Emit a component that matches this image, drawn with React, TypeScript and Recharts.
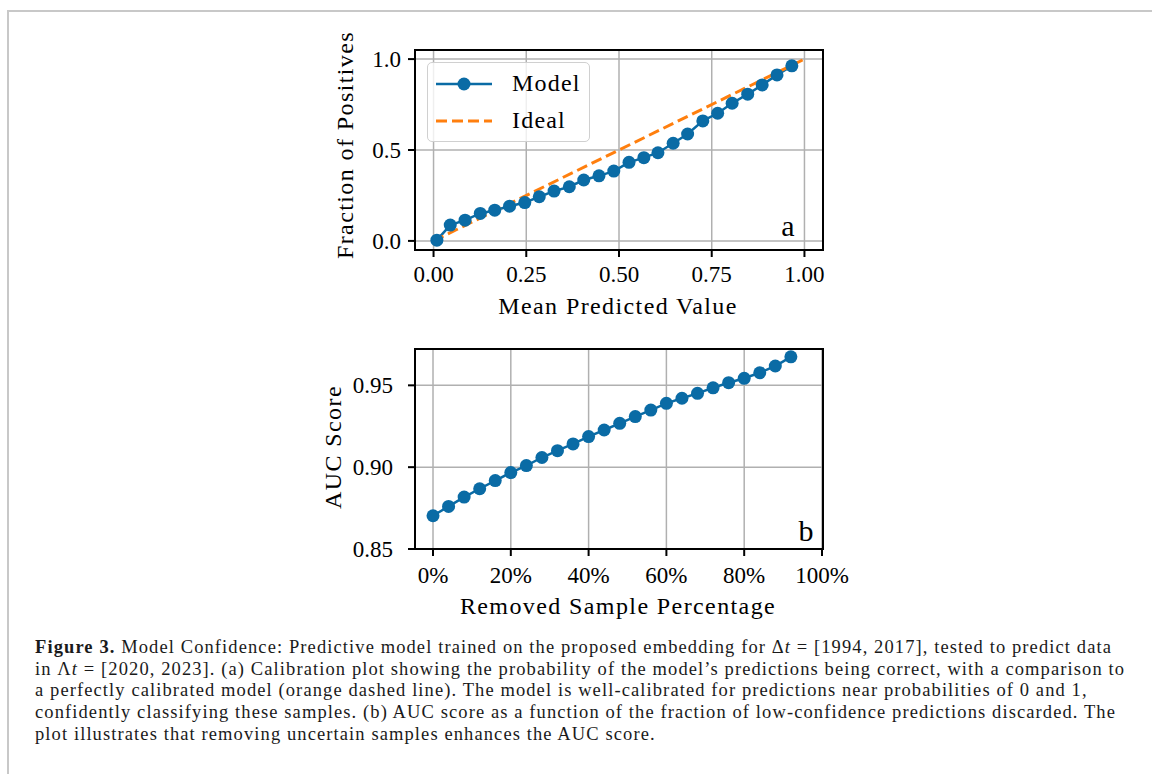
import React from "react";
import {
  ComposedChart,
  Line,
  XAxis,
  YAxis,
  CartesianGrid,
  ReferenceArea,
  Legend,
} from "recharts";

// (a) calibration curve
const meanPredicted = [
  0.009, 0.045, 0.085, 0.126, 0.165, 0.205, 0.246, 0.285, 0.325, 0.366, 0.405, 0.446, 0.486,
  0.527, 0.567, 0.605, 0.646, 0.685, 0.726, 0.766, 0.805, 0.847, 0.886, 0.926, 0.966,
];
const fractionPositives = [
  0.004, 0.087, 0.114, 0.151, 0.169, 0.191, 0.211, 0.243, 0.274, 0.298, 0.335, 0.358, 0.384,
  0.432, 0.458, 0.485, 0.537, 0.588, 0.66, 0.702, 0.757, 0.807, 0.858, 0.913, 0.963,
];
const idealX = [0, 1];
const idealY = [0, 1];
const calibTicksX = [0, 0.25, 0.5, 0.75, 1];
const calibTicksY = [0, 0.5, 1];
const legendOrder = ["Model", "Ideal"];

// (b) AUC vs removed samples
const removedPct = [0, 4, 8, 12, 16, 20, 24, 28, 32, 36, 40, 44, 48, 52, 56, 60, 64, 68, 72, 76, 80, 84, 88, 92];
const aucScore = [
  0.8703, 0.876, 0.8817, 0.8868, 0.8918, 0.8967, 0.901, 0.9059, 0.9101, 0.9142, 0.9187, 0.9227,
  0.9268, 0.9309, 0.9349, 0.939, 0.9421, 0.9451, 0.9485, 0.9516, 0.9543, 0.9577, 0.9618, 0.9674,
];
const aucTicksX = [0, 20, 40, 60, 80, 100];
const aucTicksY = [0.85, 0.9, 0.95];

const BLUE = "#0a6ba5";
const ORANGE = "#ff7f0e";
const FONT = "'Liberation Serif', 'DejaVu Serif', serif";

const modelData = meanPredicted.map((x, i) => ({ x, y: fractionPositives[i] }));
const idealData = idealX.map((x, i) => ({ x, y: idealY[i] }));
const aucData = removedPct.map((x, i) => ({ x, y: aucScore[i] }));

const tickStyle = { fill: "#000", fontSize: 23, fontFamily: FONT };
const tickLine = { stroke: "#000", strokeWidth: 2 };

function Txt({ x, y, size = 24, rotate = 0, spacing = 1.4, children }: any) {
  return (
    <div
      style={{
        position: "absolute",
        left: x,
        top: y,
        transform: `translate(-50%, -50%) rotate(${rotate}deg)`,
        fontFamily: FONT,
        fontSize: size,
        letterSpacing: spacing,
        lineHeight: 1,
        whiteSpace: "nowrap",
        color: "#000",
      }}
    >
      {children}
    </div>
  );
}

const renderLegend = (props: any) => {
  const items = [...(props.payload || [])].sort(
    (a: any, b: any) => legendOrder.indexOf(a.value) - legendOrder.indexOf(b.value)
  );
  return (
    <div
      style={{
        width: 163,
        height: 80,
        boxSizing: "border-box",
        border: "1.5px solid #d0d0d0",
        borderRadius: 5,
        background: "rgba(255,255,255,0.8)",
        paddingTop: 2,
      }}
    >
      {items.map((entry: any) => {
        const dashed = entry.payload && entry.payload.strokeDasharray;
        return (
          <div key={entry.value} style={{ display: "flex", alignItems: "center", height: 37 }}>
            <svg width={56} height={20} style={{ marginLeft: 8, marginRight: 20 }}>
              <line
                x1={0}
                y1={10}
                x2={56}
                y2={10}
                stroke={entry.color}
                strokeWidth={dashed ? 3 : 2.5}
                strokeDasharray={dashed ? "11 5" : undefined}
              />
              {!dashed && <circle cx={28} cy={10} r={6.5} fill={entry.color} />}
            </svg>
            <span style={{ fontFamily: FONT, fontSize: 24, letterSpacing: 1.2, color: "#000" }}>
              {entry.value}
            </span>
          </div>
        );
      })}
    </div>
  );
};

export default function App() {
  return (
    <div style={{ position: "absolute", left: 0, top: 0, width: 1152, height: 776, background: "#fff", overflow: "hidden" }}>
      {/* page frame */}
      <div
        style={{
          position: "absolute",
          left: 7,
          top: 10,
          width: 1160,
          height: 762,
          borderTop: "2px solid #c8c8c8",
          borderLeft: "2px solid #c8c8c8",
        }}
      />

      {/* (a) calibration plot */}
      <div style={{ position: "absolute", left: 300, top: 20 }}>
        <ComposedChart width={560} height={300} margin={{ top: 30, right: 37, bottom: 30, left: 55 }}>
          <CartesianGrid stroke="#b0b0b0" strokeWidth={1.5} />
          <XAxis
            type="number"
            dataKey="x"
            domain={[-0.05, 1.05]}
            ticks={calibTicksX}
            tickFormatter={(v: number) => v.toFixed(2)}
            axisLine={false}
            tickLine={tickLine}
            tickSize={7}
            tickMargin={9}
            tick={tickStyle}
            height={40}
            allowDataOverflow
          />
          <YAxis
            type="number"
            dataKey="y"
            domain={[-0.05, 1.05]}
            ticks={calibTicksY}
            tickFormatter={(v: number) => v.toFixed(1)}
            axisLine={false}
            tickLine={tickLine}
            tickSize={7}
            tickMargin={7}
            tick={tickStyle}
            width={60}
            allowDataOverflow
          />
          <Line
            data={modelData}
            dataKey="y"
            name="Model"
            stroke={BLUE}
            strokeWidth={2.5}
            dot={{ r: 6.5, fill: BLUE, stroke: BLUE, strokeWidth: 0 }}
            activeDot={false}
            isAnimationActive={false}
          />
          <Line
            data={idealData}
            dataKey="y"
            name="Ideal"
            stroke={ORANGE}
            strokeWidth={3}
            strokeDasharray="11 5"
            dot={false}
            activeDot={false}
            isAnimationActive={false}
          />
          <ReferenceArea
            x1={-0.05}
            x2={1.05}
            y1={-0.05}
            y2={1.05}
            fill="none"
            fillOpacity={0}
            stroke="#000"
            strokeWidth={2}
            ifOverflow="visible"
          />
          <Legend
            content={renderLegend}
            layout="vertical"
            align="center"
            verticalAlign="middle"
            wrapperStyle={{ left: 127, top: 42, width: 163, height: 80 }}
          />
        </ComposedChart>
      </div>
      <Txt x={345} y={145} rotate={-90}>Fraction of Positives</Txt>
      <Txt x={618} y={306}>Mean Predicted Value</Txt>
      <Txt x={788} y={226} size={30} spacing={0}>a</Txt>

      {/* (b) AUC plot */}
      <div style={{ position: "absolute", left: 300, top: 320 }}>
        <ComposedChart width={560} height={300} margin={{ top: 29, right: 37, bottom: 31, left: 55 }}>
          <CartesianGrid stroke="#b0b0b0" strokeWidth={1.5} />
          <XAxis
            type="number"
            dataKey="x"
            domain={[-4.63, 100.26]}
            ticks={aucTicksX}
            tickFormatter={(v: number) => `${v}%`}
            axisLine={false}
            tickLine={tickLine}
            tickSize={7}
            tickMargin={11}
            tick={tickStyle}
            height={40}
            allowDataOverflow
          />
          <YAxis
            type="number"
            dataKey="y"
            domain={[0.85, 0.9722]}
            ticks={aucTicksY}
            tickFormatter={(v: number) => v.toFixed(2)}
            axisLine={false}
            tickLine={tickLine}
            tickSize={7}
            tickMargin={15}
            tick={tickStyle}
            width={60}
            allowDataOverflow
          />
          <Line
            data={aucData}
            dataKey="y"
            name="AUC"
            stroke={BLUE}
            strokeWidth={2.5}
            dot={{ r: 6.5, fill: BLUE, stroke: BLUE, strokeWidth: 0 }}
            activeDot={false}
            isAnimationActive={false}
          />
          <ReferenceArea
            x1={-4.63}
            x2={100.26}
            y1={0.85}
            y2={0.9722}
            fill="none"
            fillOpacity={0}
            stroke="#000"
            strokeWidth={2}
            ifOverflow="visible"
          />
        </ComposedChart>
      </div>
      <Txt x={333} y={447} rotate={-90}>AUC Score</Txt>
      <Txt x={618} y={606}>Removed Sample Percentage</Txt>
      <Txt x={806} y={531} size={30} spacing={0}>b</Txt>

      {/* caption */}
      <div
        style={{
          position: "absolute",
          left: 35,
          top: 637,
          fontFamily: FONT,
          fontSize: 18.5,
          letterSpacing: 1.1,
          lineHeight: "21.7px",
          color: "#1a1a1a",
          whiteSpace: "nowrap",
        }}
      >
        <div>
          <b>Figure 3.</b> Model Confidence: Predictive model trained on the proposed embedding for Δ<i>t</i> = [1994, 2017], tested to predict data
        </div>
        <div>
          in Λ<i>t</i> = [2020, 2023]. (a) Calibration plot showing the probability of the model’s predictions being correct, with a comparison to
        </div>
        <div>
          a perfectly calibrated model (orange dashed line). The model is well-calibrated for predictions near probabilities of 0 and 1,
        </div>
        <div>
          confidently classifying these samples. (b) AUC score as a function of the fraction of low-confidence predictions discarded. The
        </div>
        <div>plot illustrates that removing uncertain samples enhances the AUC score.</div>
      </div>
    </div>
  );
}
